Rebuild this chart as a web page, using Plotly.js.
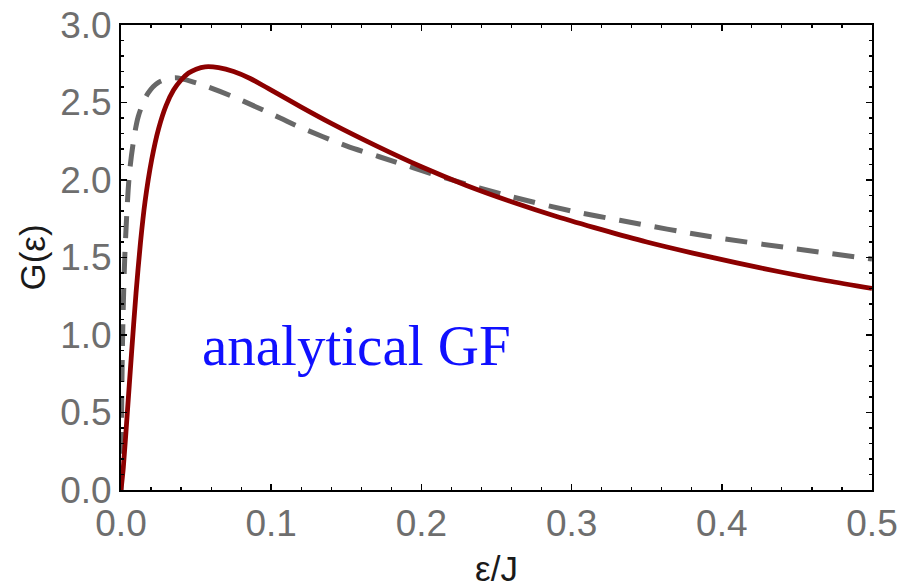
<!DOCTYPE html>
<html>
<head>
<meta charset="utf-8">
<script src="https://cdn.plot.ly/plotly-3.0.1.min.js"></script>
<style>html,body{margin:0;padding:0;background:#fff;}#chart{width:901px;height:588px;}</style>
</head>
<body>
<div id="chart"></div>
<script>
// Red solid curve (G(eps) analytical)
const redX = [0, 0.0015, 0.004, 0.007, 0.010, 0.013, 0.016, 0.0204, 0.025, 0.030, 0.035, 0.040, 0.045, 0.050, 0.056, 0.065, 0.075, 0.086, 0.100, 0.120, 0.140, 0.170, 0.200, 0.230, 0.260, 0.290, 0.320, 0.350, 0.380, 0.410, 0.440, 0.470, 0.500];
const redY = [0, 0.14, 0.47, 0.88, 1.27, 1.60, 1.86, 2.13, 2.33, 2.48, 2.58, 2.645, 2.69, 2.715, 2.73, 2.725, 2.70, 2.655, 2.58, 2.47, 2.365, 2.22, 2.085, 1.965, 1.86, 1.765, 1.68, 1.60, 1.53, 1.465, 1.405, 1.35, 1.30];
// Gray dashed curve
const grayX = [0, 0.0005, 0.0012, 0.0027, 0.006, 0.0115, 0.018, 0.025, 0.036, 0.049, 0.074, 0.106, 0.117, 0.150, 0.172, 0.217, 0.261, 0.300, 0.332, 0.392, 0.450, 0.500];
const grayY = [0, 0.60, 1.05, 1.55, 2.08, 2.41, 2.56, 2.63, 2.66, 2.63, 2.54, 2.40, 2.35, 2.22, 2.15, 2.01, 1.89, 1.80, 1.74, 1.635, 1.555, 1.49];
const xTickVals = [0, 0.1, 0.2, 0.3, 0.4, 0.5];
const xTickText = ['0.0', '0.1', '0.2', '0.3', '0.4', '0.5'];
const yTickVals = [0, 0.5, 1.0, 1.5, 2.0, 2.5, 3.0];
const yTickText = ['0.0', '0.5', '1.0', '1.5', '2.0', '2.5', '3.0'];
const labelText = 'analytical GF';

const traces = [
  {x: grayX, y: grayY, type: 'scatter', mode: 'lines', line: {color: '#686868', width: 5, dash: '22px,14px', shape: 'spline', smoothing: 0.8}, hoverinfo: 'skip'},
  {x: redX, y: redY, type: 'scatter', mode: 'lines', line: {color: '#8c0000', width: 4.8, shape: 'spline', smoothing: 0.8}, hoverinfo: 'skip'}
];

const tickFont = {family: 'Liberation Sans, Arial, sans-serif', size: 37, color: '#6e6e6e'};
const titleFont = {family: 'Liberation Sans, Arial, sans-serif', size: 35, color: '#1a1a1a'};

const layout = {
  width: 901, height: 588,
  margin: {l: 121, r: 29, t: 25, b: 98, pad: 0},
  paper_bgcolor: '#ffffff', plot_bgcolor: '#ffffff',
  showlegend: false,
  xaxis: {
    range: [0, 0.5], tickvals: xTickVals, ticktext: xTickText,
    ticks: 'inside', ticklen: 6, tickwidth: 1.5, tickcolor: '#000',
    minor: {dtick: 0.02, tick0: 0, ticks: 'inside', ticklen: 3, tickwidth: 1.2, tickcolor: '#000'},
    showline: true, linecolor: '#000', linewidth: 2, mirror: 'allticks',
    showgrid: false, zeroline: false, tickfont: tickFont,
    title: {text: 'ε/J', font: titleFont, standoff: 14},
    automargin: false
  },
  yaxis: {
    range: [0, 3], tickvals: yTickVals, ticktext: yTickText,
    ticks: 'inside', ticklen: 6, tickwidth: 1.5, tickcolor: '#000',
    minor: {dtick: 0.1, tick0: 0, ticks: 'inside', ticklen: 3, tickwidth: 1.2, tickcolor: '#000'},
    showline: true, linecolor: '#000', linewidth: 2, mirror: 'allticks',
    showgrid: false, zeroline: false, tickfont: tickFont,
    title: {text: 'G(ε)', font: titleFont, standoff: 4},
    automargin: false
  },
  annotations: [{
    x: 0.157, y: 0.93, xref: 'x', yref: 'y', text: labelText, showarrow: false,
    xanchor: 'center', yanchor: 'middle',
    font: {family: 'Liberation Serif, Times New Roman, serif', size: 57, color: '#1010ff'}
  }]
};

Plotly.newPlot('chart', traces, layout, {staticPlot: true, displayModeBar: false});
</script>
</body>
</html>
